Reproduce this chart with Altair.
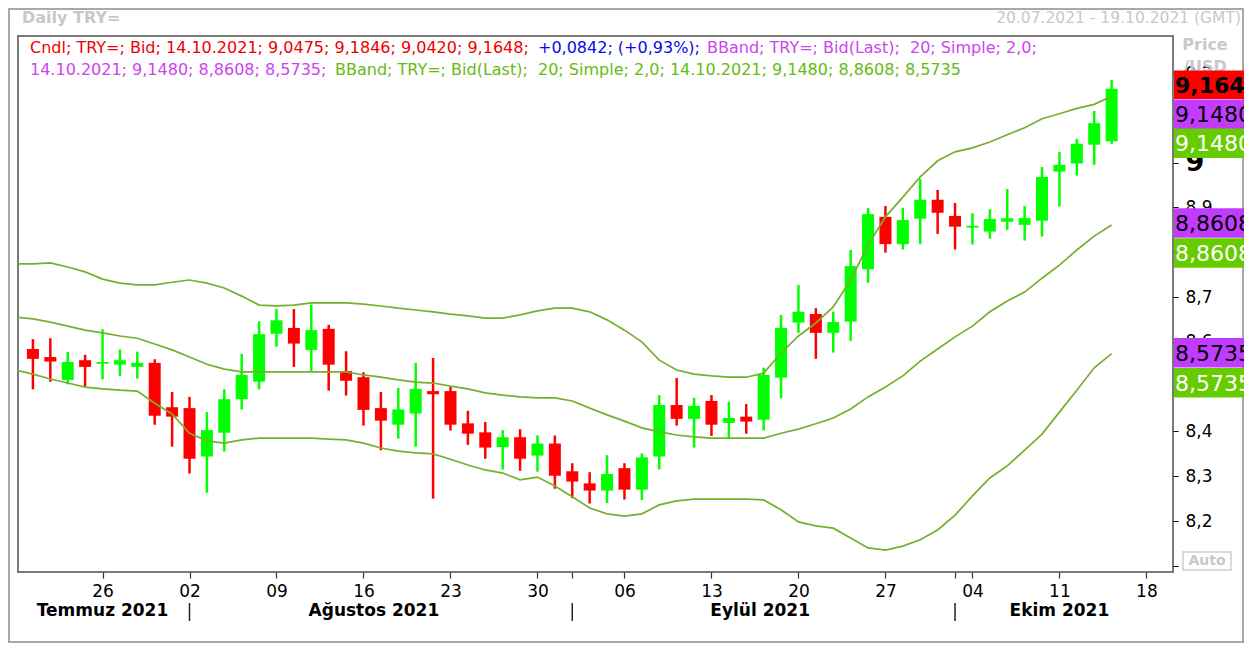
import altair as alt
import pandas as pd

# ---------------- data ----------------
# trading-day index: 0 = 20.07.2021 ... 62 = 14.10.2021
open_ = [8.584, 8.566, 8.515, 8.559, 8.551, 8.549, 8.544, 8.553, 8.454, 8.452,
         8.344, 8.397, 8.472, 8.511, 8.618, 8.631, 8.582, 8.629, 8.535, 8.521,
         8.452, 8.415, 8.440, 8.490, 8.490, 8.418, 8.398, 8.365, 8.387, 8.346,
         8.373, 8.311, 8.284, 8.268, 8.318, 8.270, 8.344, 8.459, 8.428, 8.468,
         8.419, 8.433, 8.426, 8.520, 8.643, 8.662, 8.620, 8.645, 8.762, 8.879,
         8.818, 8.875, 8.917, 8.881, 8.855, 8.846, 8.868, 8.861, 8.870, 8.980,
         8.998, 9.040, 9.0475]
high = [8.606, 8.608, 8.577, 8.571, 8.628, 8.583, 8.578, 8.561, 8.488, 8.477,
        8.443, 8.494, 8.573, 8.646, 8.673, 8.673, 8.683, 8.638, 8.579, 8.532,
        8.488, 8.497, 8.553, 8.564, 8.499, 8.446, 8.421, 8.403, 8.405, 8.391,
        8.391, 8.329, 8.309, 8.347, 8.329, 8.351, 8.481, 8.519, 8.475, 8.481,
        8.466, 8.461, 8.542, 8.660, 8.727, 8.675, 8.667, 8.805, 8.899, 8.903,
        8.899, 8.963, 8.939, 8.910, 8.887, 8.896, 8.941, 8.903, 8.990, 9.024,
        9.053, 9.115, 9.1846]
low = [8.494, 8.511, 8.505, 8.500, 8.516, 8.524, 8.518, 8.415, 8.366, 8.306,
       8.263, 8.355, 8.449, 8.494, 8.589, 8.544, 8.533, 8.491, 8.480, 8.413,
       8.358, 8.384, 8.366, 8.250, 8.402, 8.370, 8.339, 8.315, 8.312, 8.310,
       8.272, 8.251, 8.239, 8.240, 8.248, 8.247, 8.315, 8.413, 8.364, 8.390,
       8.386, 8.395, 8.402, 8.474, 8.620, 8.562, 8.576, 8.602, 8.732, 8.799,
       8.806, 8.818, 8.841, 8.806, 8.817, 8.830, 8.850, 8.826, 8.835, 8.902,
       8.971, 8.995, 9.0420]
close = [8.562, 8.556, 8.555, 8.544, 8.555, 8.559, 8.553, 8.435, 8.433, 8.339,
         8.403, 8.472, 8.526, 8.617, 8.648, 8.596, 8.626, 8.549, 8.513, 8.448,
         8.424, 8.449, 8.495, 8.483, 8.415, 8.395, 8.364, 8.387, 8.339, 8.373,
         8.301, 8.288, 8.268, 8.305, 8.270, 8.342, 8.459, 8.428, 8.457, 8.415,
         8.430, 8.422, 8.526, 8.631, 8.667, 8.620, 8.644, 8.769, 8.885, 8.818,
         8.872, 8.917, 8.888, 8.857, 8.859, 8.874, 8.876, 8.876, 8.968, 8.995,
         9.042, 9.088, 9.1648]

# Bollinger bands (20, 2.0), index -1 (19.07.2021) ... 62
bb_upper = [8.774, 8.774, 8.776, 8.767, 8.756, 8.740, 8.731, 8.727, 8.727, 8.733,
            8.738, 8.731, 8.720, 8.702, 8.682, 8.680, 8.682, 8.687, 8.687, 8.687,
            8.684, 8.680, 8.675, 8.671, 8.667, 8.662, 8.658, 8.653, 8.653, 8.660,
            8.669, 8.675, 8.675, 8.667, 8.649, 8.626, 8.600, 8.559, 8.537, 8.528,
            8.524, 8.521, 8.521, 8.530, 8.575, 8.613, 8.642, 8.678, 8.738, 8.816,
            8.879, 8.923, 8.968, 9.004, 9.024, 9.033, 9.046, 9.062, 9.078, 9.098,
            9.109, 9.121, 9.130, 9.148]
bb_middle = [8.655, 8.651, 8.644, 8.635, 8.626, 8.620, 8.613, 8.608, 8.595, 8.582,
             8.566, 8.550, 8.539, 8.533, 8.533, 8.533, 8.533, 8.533, 8.533, 8.533,
             8.526, 8.521, 8.515, 8.510, 8.508, 8.501, 8.495, 8.486, 8.481, 8.477,
             8.475, 8.475, 8.468, 8.452, 8.437, 8.423, 8.408, 8.399, 8.392, 8.388,
             8.385, 8.385, 8.385, 8.385, 8.396, 8.405, 8.417, 8.430, 8.450, 8.477,
             8.499, 8.524, 8.557, 8.584, 8.611, 8.635, 8.667, 8.691, 8.711, 8.742,
             8.771, 8.805, 8.836, 8.8608]
bb_lower = [8.537, 8.528, 8.517, 8.508, 8.499, 8.495, 8.492, 8.490, 8.463, 8.439,
            8.396, 8.379, 8.374, 8.381, 8.385, 8.385, 8.385, 8.385, 8.383, 8.381,
            8.374, 8.363, 8.356, 8.352, 8.350, 8.338, 8.325, 8.314, 8.307, 8.292,
            8.298, 8.278, 8.254, 8.229, 8.216, 8.211, 8.216, 8.236, 8.245, 8.249,
            8.249, 8.249, 8.249, 8.247, 8.225, 8.198, 8.189, 8.184, 8.162, 8.140,
            8.135, 8.144, 8.158, 8.180, 8.213, 8.256, 8.296, 8.323, 8.358, 8.394,
            8.443, 8.492, 8.542, 8.5735]

# x axis: trading-day index of tick and its label
tick_idx = [4, 9, 14, 19, 24, 29, 31, 34, 39, 44, 49, 53, 54, 59, 64]
tick_lbl = ["26", "02", "09", "16", "23", "30", "", "06", "13", "20", "27", "", "04", "11", "18"]
month_names = ["Temmuz 2021", "Ağustos 2021", "Eylül 2021", "Ekim 2021"]
month_center = [4.0, 19.6, 41.8, 59.0]
month_start = [9, 31, 53]
y_ticks = [8.1, 8.2, 8.3, 8.4, 8.5, 8.6, 8.7, 8.8, 8.9, 9.0, 9.1, 9.2]

# right-hand value boxes: value, shift (px, collision offset), fill, text colour
box_value = [9.148, 9.148, 8.8608, 8.8608, 8.5735, 8.5735]
box_text = ["9,1480", "9,1480", "8,8608", "8,8608", "8,5735", "8,5735"]
box_shift = [18, 47, -2, 28, -1, 29]
box_fill = ["#c23cff", "#66cc00", "#c23cff", "#66cc00", "#c23cff", "#66cc00"]
box_tcol = ["#000000", "#ffffff", "#000000", "#ffffff", "#000000", "#ffffff"]
last_close = 9.1648

# ---------------- layout ----------------
W, H = 1155, 536
Y_DOM = [8.0862, 9.2826]
X_DOM = [-0.57, 65.24]
PPU = H / (Y_DOM[1] - Y_DOM[0])
FONT = "DejaVu Sans"
BAND = "#74b02c"

xs = alt.Scale(domain=X_DOM, nice=False, zero=False)
ys = alt.Scale(domain=Y_DOM, nice=False, zero=False)

lbl_expr = "".join(f"datum.value == {i} ? '{l}' : " for i, l in zip(tick_idx, tick_lbl)) + "''"

X_AX = alt.Axis(values=tick_idx, labelExpr=lbl_expr, grid=False, domain=False, title=None,
                tickSize=6, tickColor="#333333", tickWidth=1.2, labelFont=FONT,
                labelFontSize=17, labelColor="#000000", labelPadding=5,
                labelOverlap=False, labelFlush=False, zindex=0)
Y_AX = alt.Axis(orient="right", values=y_ticks, grid=False, domain=False, title=None,
                labelExpr="datum.value == 9 ? '9' : datum.value < 8.15 ? '' : replace(format(datum.value, '.1f'), '.', ',')",
                tickSize=5, tickColor="#000000", labelPadding=7, labelFont=FONT,
                labelFontSize={"condition": {"test": "datum.value == 9", "value": 27}, "value": 17},
                labelFontWeight={"condition": {"test": "datum.value == 9", "value": "bold"}, "value": "normal"},
                labelColor="#000000", labelBaseline="middle",
                labelOverlap=False, labelFlush=False, zindex=0)


def X(field):
    return alt.X(field, scale=xs, axis=X_AX, title=None)


def Y(field):
    return alt.Y(field, scale=ys, axis=Y_AX, title=None)


n = len(open_)
df = pd.DataFrame({"idx": list(range(n)), "open": open_, "high": high,
                   "low": low, "close": close})
df["dir"] = ["up" if c >= o else "down" for o, c in zip(open_, close)]

bdf = pd.DataFrame({"idx": list(range(-1, n)), "upper": bb_upper,
                    "middle": bb_middle, "lower": bb_lower})

one = pd.DataFrame({"k": [0]})

color = alt.Color("dir:N", scale=alt.Scale(domain=["up", "down"], range=["#00ff00", "#ff0000"]), legend=None)

wick = alt.Chart(df).mark_rule(strokeWidth=2.5).encode(
    x=X("idx:Q"), y=Y("low:Q"), y2="high:Q", color=color)

body = alt.Chart(df).mark_bar(size=12).encode(
    x=X("idx:Q"), y=Y("open:Q"), y2="close:Q", color=color)

bands = [
    alt.Chart(bdf).mark_line(color=BAND, strokeWidth=1.7, clip=True).encode(
        x=X("idx:Q"), y=Y(f"{c}:Q"))
    for c in ["upper", "middle", "lower"]
]

# value boxes
bx = pd.DataFrame({"value": box_value, "label": box_text, "shift": box_shift,
                   "fill": box_fill, "tcol": box_tcol})
bx["center"] = bx["value"] - bx["shift"] / PPU
bx["top"] = bx["center"] + 14.7 / PPU
bx["bot"] = bx["center"] - 14.7 / PPU
red = pd.DataFrame({"value": [last_close], "label": ["9,1648"]})
red["center"] = red["value"] + 4 / PPU
red["top"] = red["center"] + 14.2 / PPU
red["bot"] = red["center"] - 14.2 / PPU

box_rect = alt.Chart(bx).mark_rect().encode(
    x=alt.value(W + 1), x2=alt.value(W + 90),
    y=Y("top:Q"), y2="bot:Q",
    color=alt.Color("fill:N", scale=None))
box_txt = alt.Chart(bx).mark_text(align="left", baseline="middle", font=FONT, fontSize=22, dy=1).encode(
    x=alt.value(W + 2), y=Y("center:Q"),
    text="label:N", color=alt.Color("tcol:N", scale=None))
red_rect = alt.Chart(red).mark_rect(color="#ff0000").encode(
    x=alt.value(W + 1), x2=alt.value(W + 90),
    y=Y("top:Q"), y2="bot:Q")
red_txt = alt.Chart(red).mark_text(align="left", baseline="middle", font=FONT, fontSize=22,
                                   fontWeight="bold", color="#000000", dy=1).encode(
    x=alt.value(W + 2), y=Y("center:Q"), text="label:N")


def label(text, x, y, color, size, weight="normal", align="left"):
    return alt.Chart(one).mark_text(text=text, align=align, baseline="middle", color=color,
                                    fontSize=size, fontWeight=weight, font=FONT).encode(
        x=alt.value(x), y=alt.value(y))


NB = "\u00a0"
texts = [
    label("Daily TRY=", 4, -18, "#c8c8c8", 16, "bold"),
    label("20.07.2021 - 19.10.2021 (GMT)", 1223, -18, "#c8c8c8", 15.5, align="right"),
    label("Price", 1187, 9, "#c8c8c8", 16, "bold", align="center"),
    label("/USD", 1187, 31, "#c8c8c8", 16, "bold", align="center"),
    label("Cndl; TRY=; Bid; 14.10.2021; 9,0475; 9,1846; 9,0420; 9,1648;", 12, 12, "#ee0000", 16),
    label("+0,0842; (+0,93%);", 520, 12, "#0a0ae6", 16),
    label(f"BBand; TRY=; Bid(Last);{NB} 20; Simple; 2,0;", 689, 12, "#cc44ee", 16),
    label("14.10.2021; 9,1480; 8,8608; 8,5735;", 12, 34, "#cc44ee", 16),
    label(f"BBand; TRY=; Bid(Last);{NB} 20; Simple; 2,0; 14.10.2021; 9,1480; 8,8608; 8,5735", 317, 34, "#66bb11", 16),
]

frame = alt.Chart(one).mark_rect(fillOpacity=0, stroke="#a8a8a8", strokeWidth=2).encode(
    x=alt.value(-9), x2=alt.value(W + 70), y=alt.value(-27), y2=alt.value(H + 70))

auto_box = alt.Chart(one).mark_rect(fill="#ffffff", stroke="#cfcfcf", strokeWidth=1.5).encode(
    x=alt.value(W + 10), x2=alt.value(W + 58), y=alt.value(H - 20), y2=alt.value(H - 2))
auto_txt = label("Auto", W + 34, H - 11, "#c8c8c8", 14, "bold", align="center")

mdf = pd.DataFrame({"name": month_names, "c": month_center})
months = alt.Chart(mdf).mark_text(baseline="middle", align="center", font=FONT, fontSize=17,
                                  fontWeight="bold", color="#000000").encode(
    x=X("c:Q"), y=alt.value(H + 39), text="name:N")
sdf = pd.DataFrame({"s": month_start})
seps = alt.Chart(sdf).mark_rule(color="#222222", strokeWidth=1.5).encode(
    x=X("s:Q"), y=alt.value(H + 31), y2=alt.value(H + 49))

chart = alt.layer(
    frame, wick, body, *bands, *texts, box_rect, box_txt, red_rect, red_txt,
    auto_box, auto_txt, months, seps
).properties(
    width=W, height=H,
    autosize=alt.AutoSizeParams(type="none"),
    padding={"left": 10, "top": 28, "right": 71, "bottom": 71},
    background="#ffffff",
).configure_view(stroke="#7a7a7a", strokeWidth=2)

chart.save("out.html", embed_options={"renderer": "svg", "actions": False})
